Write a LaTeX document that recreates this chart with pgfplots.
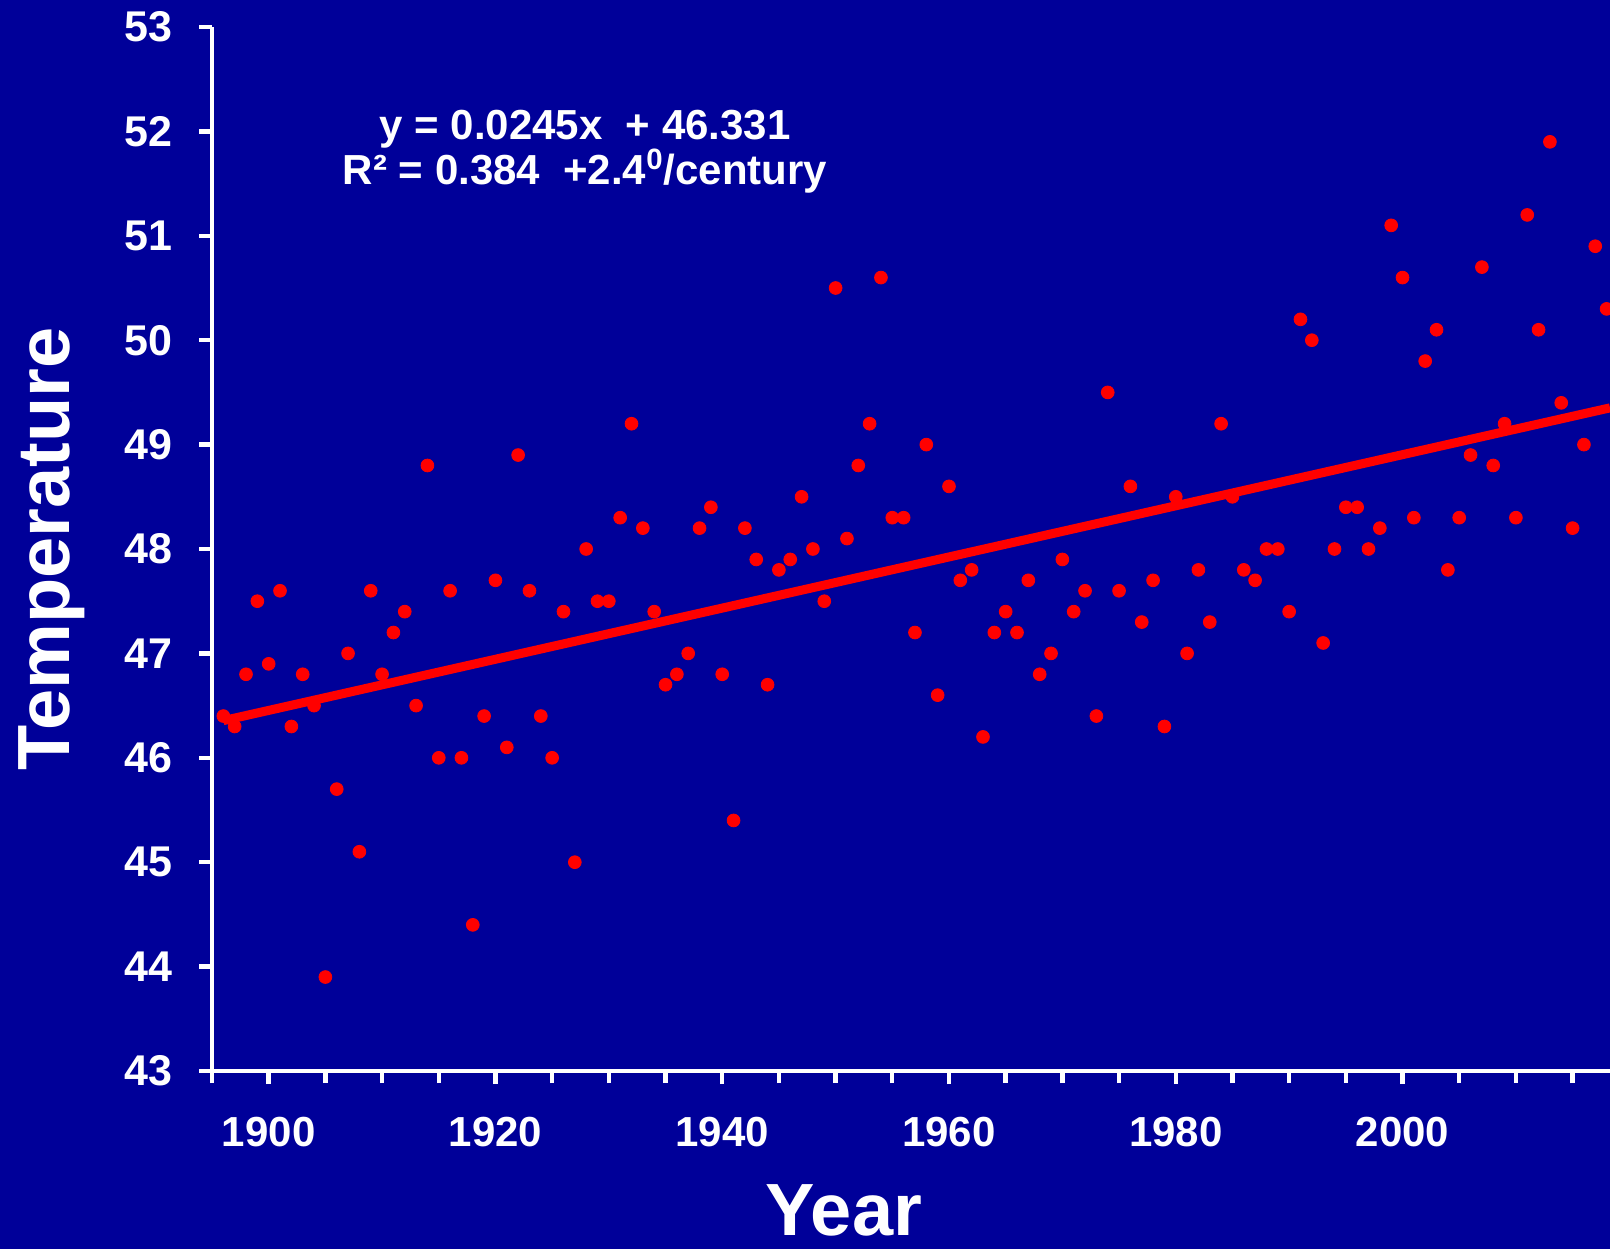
\documentclass[border=0pt]{standalone}
\usepackage{pgfplots}
\pgfplotsset{compat=1.18}
\usepackage{fontspec}
\setmainfont{Liberation Sans}
\definecolor{bgblue}{RGB}{0,0,153}

\begin{document}
\begin{tikzpicture}
% background, also the page size
\fill[bgblue] (-106pt,-89pt) rectangle (699pt,535.5pt);
\begin{axis}[
    at={(0pt,0pt)}, anchor=south west,
    scale only axis, width=699pt, height=522pt,
    xmin=1895, xmax=2018.3, ymin=43, ymax=53,
    axis lines=left,
    axis line style={white, line width=2.2pt, -},
    tick style={white, line width=2.2pt},
    tick align=outside,
    major tick length=6.5pt, minor tick length=6pt,
    xtick={1900,1920,...,2000},
    minor xtick={1895,1900,...,2015},
    ytick={43,44,...,53},
    tick label style={white, font=\fontsize{21}{25}\selectfont\bfseries},
    /pgf/number format/assume math mode=true,
    /pgf/number format/1000 sep={},
    xticklabel style={anchor=north, inner sep=0pt, yshift=-16.5pt},
    yticklabel style={anchor=east, inner sep=0pt, xshift=-13pt,
        font=\fontsize{21.5}{25}\selectfont\bfseries},
    xlabel={Year}, ylabel={Temperature},
    label style={white, font=\fontsize{37}{40}\selectfont\bfseries},
    xlabel style={at={(axis description cs:0.452,-0.158)}, anchor=base},
    ylabel style={at={(axis description cs:-0.1016,0.5)}, anchor=base},
    clip=false,
]
\addplot[red, only marks, mark=*, mark size=3.2pt, mark options={solid, fill=red, draw=red}]
table {
year temp
1896 46.4
1897 46.3
1898 46.8
1899 47.5
1900 46.9
1901 47.6
1902 46.3
1903 46.8
1904 46.5
1905 43.9
1906 45.7
1907 47.0
1908 45.1
1909 47.6
1910 46.8
1911 47.2
1912 47.4
1913 46.5
1914 48.8
1915 46.0
1916 47.6
1917 46.0
1918 44.4
1919 46.4
1920 47.7
1921 46.1
1922 48.9
1923 47.6
1924 46.4
1925 46.0
1926 47.4
1927 45.0
1928 48.0
1929 47.5
1930 47.5
1931 48.3
1932 49.2
1933 48.2
1934 47.4
1935 46.7
1936 46.8
1937 47.0
1938 48.2
1939 48.4
1940 46.8
1941 45.4
1942 48.2
1943 47.9
1944 46.7
1945 47.8
1946 47.9
1947 48.5
1948 48.0
1949 47.5
1950 50.5
1951 48.1
1952 48.8
1953 49.2
1954 50.6
1955 48.3
1956 48.3
1957 47.2
1958 49.0
1959 46.6
1960 48.6
1961 47.7
1962 47.8
1963 46.2
1964 47.2
1965 47.4
1966 47.2
1967 47.7
1968 46.8
1969 47.0
1970 47.9
1971 47.4
1972 47.6
1973 46.4
1974 49.5
1975 47.6
1976 48.6
1977 47.3
1978 47.7
1979 46.3
1980 48.5
1981 47.0
1982 47.8
1983 47.3
1984 49.2
1985 48.5
1986 47.8
1987 47.7
1988 48.0
1989 48.0
1990 47.4
1991 50.2
1992 50.0
1993 47.1
1994 48.0
1995 48.4
1996 48.4
1997 48.0
1998 48.2
1999 51.1
2000 50.6
2001 48.3
2002 49.8
2003 50.1
2004 47.8
2005 48.3
2006 48.9
2007 50.7
2008 48.8
2009 49.2
2010 48.3
2011 51.2
2012 50.1
2013 51.9
2014 49.4
2015 48.2
2016 49.0
2017 50.9
2018 50.3
};
% linear trend as drawn in the chart
\addplot[red, line width=4.5pt, no marks] coordinates {(1896,46.356) (2018.3,49.352)};
\end{axis}
\node[anchor=base, white, font=\fontsize{21}{25}\selectfont\bfseries] at (186.5pt,465.5pt) {y = 0.0245x \ + 46.331};
\node[anchor=base, white, font=\fontsize{21}{25}\selectfont\bfseries] at (186.5pt,443pt) {R² = 0.384\hspace{0.55em}+2.4\textsuperscript{0}/century};
\pgfresetboundingbox
\path[use as bounding box] (-106pt,-89pt) rectangle (699pt,535.5pt);
\end{tikzpicture}
\end{document}
